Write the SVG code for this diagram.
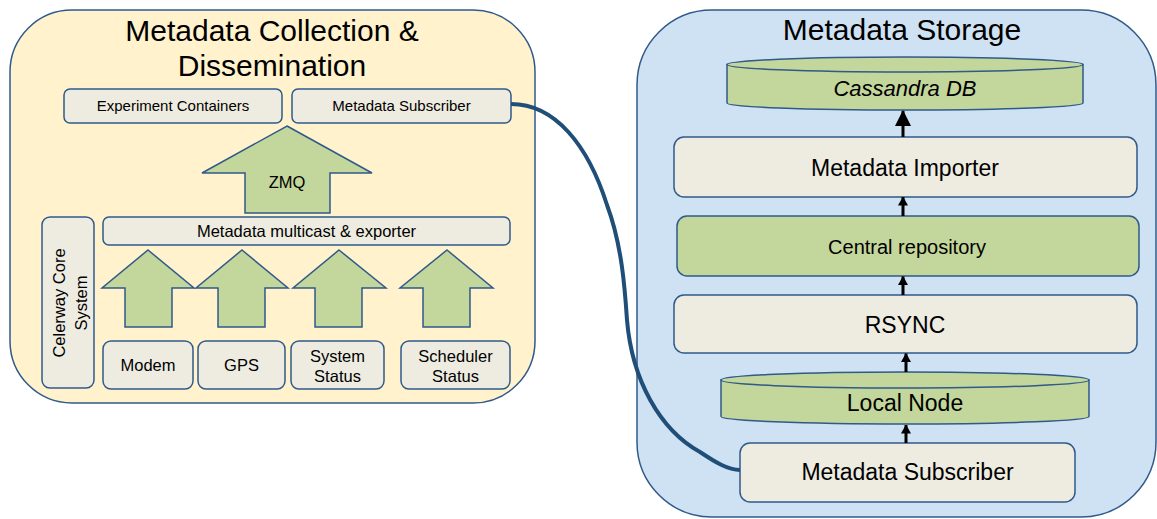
<svg xmlns="http://www.w3.org/2000/svg" width="1157" height="519" viewBox="0 0 1157 519">
<style>
  .container{stroke:#2F5A8A;stroke-width:1.5}
  .box{fill:#EEECE1;stroke:#2F5A8A;stroke-width:1.5}
  .green{fill:#C3D69B;stroke:#2F5A8A;stroke-width:1.5}
  .t{font-family:"Liberation Sans",Arial,sans-serif;fill:#000;text-anchor:middle}
  .flow{stroke:#000;stroke-width:3;fill:none}
  .link{stroke:#1F4E79;stroke-width:4;fill:none}
</style>
<defs>
  <marker id="headBig" markerUnits="userSpaceOnUse" markerWidth="16" markerHeight="16" refX="15" refY="8" orient="auto">
    <path d="M0,0 L16,8 L0,16 Z" fill="#000"/>
  </marker>
  <marker id="head" markerUnits="userSpaceOnUse" markerWidth="9" markerHeight="10" refX="8.5" refY="5" orient="auto">
    <path d="M0,0 L9,5 L0,10 Z" fill="#000"/>
  </marker>
</defs>

<g id="collection-container">
  <rect class="container" x="10" y="10" width="525" height="393" rx="62" fill="#FFF2CC"/>
  <text class="t" x="272" y="41" font-size="30">Metadata Collection &amp;</text>
  <text class="t" x="272" y="76" font-size="30">Dissemination</text>
</g>

<g id="storage-container">
  <rect class="container" x="637" y="10" width="519" height="507" rx="75" fill="#CFE2F3"/>
  <text class="t" x="902" y="40" font-size="30">Metadata Storage</text>
</g>

<g id="experiment-containers">
  <rect class="box" x="64" y="89" width="218" height="34" rx="6"/>
  <text class="t" x="173" y="111" font-size="15">Experiment Containers</text>
</g>
<g id="metadata-subscriber-left">
  <rect class="box" x="292" y="89" width="219" height="34" rx="6"/>
  <text class="t" x="401.5" y="111" font-size="15">Metadata Subscriber</text>
</g>

<g id="zmq">
  <polygon class="green" points="287,126 372,173 330,173 330,213 245,213 245,173 202,173"/>
  <text class="t" x="287" y="188" font-size="16.5">ZMQ</text>
</g>

<g id="multicast-exporter">
  <rect class="box" x="103" y="217" width="407" height="28" rx="6"/>
  <text class="t" x="306.5" y="237" font-size="16.5">Metadata multicast &amp; exporter</text>
</g>

<g id="celerway-core">
  <rect class="box" x="42" y="217" width="52" height="171" rx="8"/>
  <g transform="translate(68,303) rotate(-90)">
    <text class="t" x="0" y="-3" font-size="16.5">Celerway Core</text>
    <text class="t" x="0" y="19" font-size="16.5">System</text>
  </g>
</g>

<g id="up-arrows">
  <polygon class="green" points="148,250 194,288 172,288 172,327 125,327 125,288 102,288"/>
  <polygon class="green" points="242,250 288,288 265,288 265,327 218,327 218,288 196,288"/>
  <polygon class="green" points="339,250 386,288 362,288 362,327 315,327 315,288 293,288"/>
  <polygon class="green" points="447,250 493,288 470,288 470,327 423,327 423,288 400,288"/>
</g>

<g id="modem">
  <rect class="box" x="103" y="341" width="90" height="48" rx="8"/>
  <text class="t" x="148" y="371" font-size="16.5">Modem</text>
</g>
<g id="gps">
  <rect class="box" x="198" y="341" width="87" height="48" rx="8"/>
  <text class="t" x="241.5" y="371" font-size="16.5">GPS</text>
</g>
<g id="system-status">
  <rect class="box" x="291" y="341" width="93" height="48" rx="8"/>
  <text class="t" x="337.5" y="362" font-size="16.5">System</text>
  <text class="t" x="337.5" y="382" font-size="16.5">Status</text>
</g>
<g id="scheduler-status">
  <rect class="box" x="401" y="341" width="109" height="48" rx="8"/>
  <text class="t" x="455.5" y="362" font-size="16.5">Scheduler</text>
  <text class="t" x="455.5" y="382" font-size="16.5">Status</text>
</g>

<g id="cassandra-db">
  <path class="green" d="M727,64.5 L727,103 A177,7 0 0 0 1083,103 L1083,64.5 Z"/>
  <ellipse class="green" cx="905" cy="64.5" rx="178" ry="7.5"/>
  <text class="t" x="905" y="96" font-size="22" font-style="italic">Cassandra DB</text>
</g>

<g id="metadata-importer">
  <rect class="box" x="674" y="137" width="463" height="60" rx="10"/>
  <text class="t" x="905" y="176" font-size="23">Metadata Importer</text>
</g>

<g id="central-repository">
  <rect class="green" x="677" y="216" width="462" height="60" rx="10"/>
  <text class="t" x="907" y="254" font-size="20">Central repository</text>
</g>

<g id="rsync">
  <rect class="box" x="674" y="295" width="463" height="58" rx="10"/>
  <text class="t" x="905" y="333" font-size="23">RSYNC</text>
</g>

<g id="local-node">
  <path class="green" d="M721,380 L721,416.5 A184,7.5 0 0 0 1089,416.5 L1089,380 Z"/>
  <ellipse class="green" cx="905" cy="380" rx="184" ry="8"/>
  <text class="t" x="905" y="411" font-size="23">Local Node</text>
</g>

<g id="metadata-subscriber-right">
  <rect class="box" x="740" y="443" width="335" height="59" rx="10"/>
  <text class="t" x="907.5" y="480" font-size="23">Metadata Subscriber</text>
</g>

<g id="connectors">
  <path class="link" d="M511,104 C555,104 588,145 607,205 C622,245 625,290 627,320 C632,380 660,430 700,452 C715,462 728,470 740,470"/>
  <line class="flow" x1="903" y1="137" x2="903" y2="111" stroke-width="3.5" marker-end="url(#headBig)"/>
  <line class="flow" x1="903" y1="216" x2="903" y2="197" marker-end="url(#head)"/>
  <line class="flow" x1="903" y1="295" x2="903" y2="276.5" marker-end="url(#head)"/>
  <line class="flow" x1="906" y1="372" x2="906" y2="353.5" marker-end="url(#head)"/>
  <line class="flow" x1="906" y1="443" x2="906" y2="425" marker-end="url(#head)"/>
</g>
</svg>
